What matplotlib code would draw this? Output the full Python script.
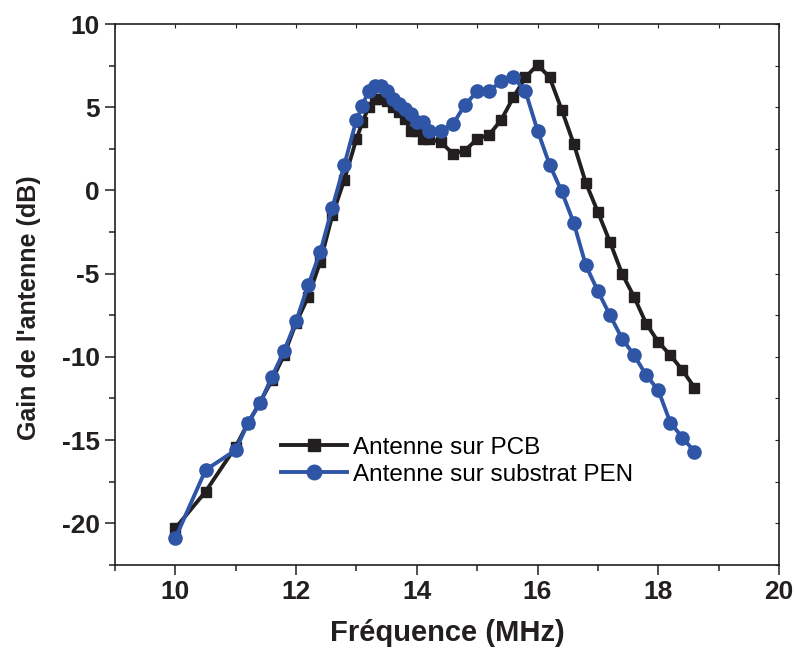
import matplotlib.pyplot as plt
from matplotlib.ticker import MultipleLocator

# Frequencies (MHz) shared by both curves
freq = [10.0, 10.5, 11.0, 11.2, 11.4, 11.6, 11.8, 12.0, 12.2, 12.4, 12.6, 12.8,
        13.0, 13.1, 13.2, 13.3, 13.4, 13.5, 13.6, 13.7, 13.8, 13.9, 14.0, 14.1, 14.2,
        14.4, 14.6, 14.8, 15.0, 15.2, 15.4, 15.6, 15.8, 16.0, 16.2, 16.4, 16.6,
        16.8, 17.0, 17.2, 17.4, 17.6, 17.8, 18.0, 18.2, 18.4, 18.6]

# Gain (dB) - antenna on PCB
gain_pcb = [-20.3, -18.1, -15.4, -14.0, -12.75, -11.4, -9.9, -7.95, -6.4, -4.3, -1.5, 0.65,
            3.1, 4.1, 5.0, 5.5, 5.5, 5.4, 5.0, 4.7, 4.3, 3.6, 3.6, 3.1, 3.1,
            2.9, 2.2, 2.4, 3.1, 3.35, 4.25, 5.6, 6.8, 7.55, 6.8, 4.85, 2.8,
            0.46, -1.3, -3.1, -5.0, -6.4, -8.0, -9.1, -9.9, -10.8, -11.85]

# Gain (dB) - antenna on PEN substrate
gain_pen = [-20.9, -16.8, -15.6, -14.0, -12.8, -11.2, -9.65, -7.85, -5.7, -3.7, -1.04, 1.55,
            4.25, 5.1, 6.0, 6.3, 6.3, 6.0, 5.5, 5.2, 4.9, 4.6, 4.1, 4.1, 3.6,
            3.6, 4.0, 5.15, 5.95, 5.95, 6.6, 6.8, 5.95, 3.6, 1.55, -0.06, -1.95,
            -4.5, -6.05, -7.5, -8.9, -9.9, -11.1, -12.0, -13.95, -14.85, -15.7]

labels = ['Antenne sur PCB', 'Antenne sur substrat PEN']

plt.rcParams['font.family'] = ['Liberation Sans', 'DejaVu Sans']
plt.rcParams['axes.unicode_minus'] = False
dark = '#231f20'
blue = '#2e55a6'

fig = plt.figure(figsize=(7.97, 6.5), dpi=100)
ax = fig.add_axes([0.1443, 0.131, 0.8331, 0.832])

ax.plot(freq, gain_pcb, '-s', color=dark, lw=2.8, ms=7.8, label=labels[0])
ax.plot(freq, gain_pen, '-o', color=blue, lw=2.8, ms=9.5, label=labels[1])

ax.set_xlim(9, 20)
ax.set_ylim(-22.5, 10)
ax.xaxis.set_major_locator(MultipleLocator(2))
ax.xaxis.set_minor_locator(MultipleLocator(1))
ax.yaxis.set_major_locator(MultipleLocator(5))
ax.yaxis.set_minor_locator(MultipleLocator(2.5))

for s in ax.spines.values():
    s.set_color(dark)
    s.set_linewidth(1.2)
ax.tick_params(which='both', direction='out', color=dark, width=1.1)
ax.tick_params(which='major', length=7, labelsize=19, pad=4)
ax.tick_params(which='minor', length=4.5)
for lab in ax.get_xticklabels() + ax.get_yticklabels():
    lab.set_fontweight('bold')
    lab.set_color(dark)

# small inward ticks on top and right spines
top = ax.secondary_xaxis('top')
top.xaxis.set_major_locator(MultipleLocator(1))
top.tick_params(direction='in', length=3, color=dark, labeltop=False)
right = ax.secondary_yaxis('right')
right.yaxis.set_major_locator(MultipleLocator(2.5))
right.tick_params(direction='in', length=3, color=dark, labelright=False)
top.spines['top'].set_visible(False)
right.spines['right'].set_visible(False)

ax.set_xlabel('Fréquence (MHz)', fontsize=21, fontweight='bold', color=dark, labelpad=11)
ax.set_ylabel("Gain de l'antenne (dB)", fontsize=18, fontweight='bold', color=dark)
ax.yaxis.set_label_coords(-0.112, 0.475)

ax.legend(loc='upper left', bbox_to_anchor=(0.236, 0.255), frameon=False,
          fontsize=17.5, handlelength=2.7, handletextpad=0.25, labelspacing=0.2,
          borderaxespad=0, markerscale=1.1)

fig.savefig('out.png', dpi=100)
